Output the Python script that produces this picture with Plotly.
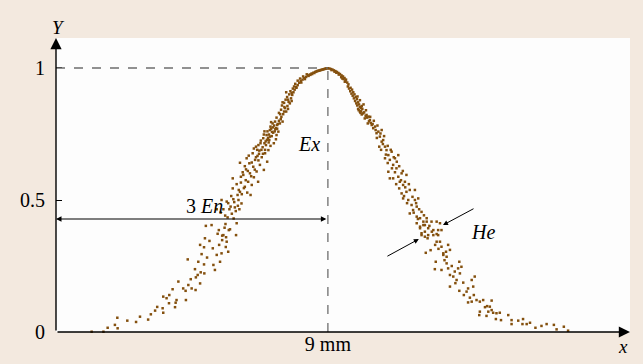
import plotly.graph_objects as go

# ---- cloud drops (x in mm, membership Y) ----
left_tail = [
    (1.18, 0.001), (1.57, 0.001), (1.71, 0.016), (1.95, 0.027), (2.04, 0.014), (2.03, 0.054),
    (2.36, 0.043), (2.65, 0.038), (2.78, 0.058), (3.05, 0.047), (3.14, 0.067), (3.28, 0.081),
    (3.35, 0.095), (3.55, 0.073), (3.53, 0.090), (3.55, 0.134), (3.66, 0.128), (3.75, 0.140),
    (3.74, 0.109), (3.86, 0.162), (3.94, 0.094), (3.96, 0.111), (4.05, 0.191), (3.99, 0.121),
    (4.21, 0.165), (4.30, 0.121), (4.29, 0.156), (4.36, 0.275), (4.38, 0.178), (4.46, 0.200),
    (4.49, 0.165), (4.62, 0.159), (4.63, 0.207), (4.60, 0.238), (4.71, 0.266), (4.77, 0.184),
    (4.69, 0.216), (4.79, 0.226), (4.82, 0.295), (4.90, 0.256), (4.91, 0.222), (4.77, 0.330),
    (4.90, 0.321), (4.93, 0.355), (4.96, 0.402), (5.15, 0.405), (5.19, 0.317), (5.26, 0.235),
    (5.21, 0.254), (5.32, 0.292), (5.40, 0.330), (5.43, 0.266), (5.48, 0.298), (5.54, 0.367),
    (5.61, 0.409), (5.65, 0.342), (5.70, 0.304), (5.72, 0.386), (5.58, 0.395), (5.50, 0.348),
    (5.62, 0.322), (5.35, 0.372), (5.08, 0.345), (5.00, 0.282),
]
left_mid = [
    (5.32, 0.465), (5.39, 0.386), (5.48, 0.500), (5.50, 0.365), (5.54, 0.465), (5.63, 0.359),
    (5.65, 0.494), (5.68, 0.434), (5.74, 0.465), (5.76, 0.389), (5.78, 0.475), (5.85, 0.582),
    (5.85, 0.544), (5.87, 0.503), (5.92, 0.472), (5.96, 0.367), (5.98, 0.412), (6.01, 0.519),
    (6.07, 0.465), (6.09, 0.531), (6.09, 0.641), (6.12, 0.566), (6.14, 0.487), (6.20, 0.595),
    (6.25, 0.550), (6.29, 0.616), (6.31, 0.658), (6.33, 0.528), (6.36, 0.569), (6.40, 0.639),
    (6.42, 0.601), (6.44, 0.519), (6.48, 0.557), (6.51, 0.677), (6.53, 0.626), (6.55, 0.586),
    (6.59, 0.652), (6.62, 0.702), (6.64, 0.608), (6.67, 0.667), (6.69, 0.569), (6.73, 0.687),
    (6.75, 0.633), (6.77, 0.715), (6.81, 0.662), (6.84, 0.700), (6.86, 0.734), (6.88, 0.614),
    (6.92, 0.677), (6.95, 0.708), (6.97, 0.746), (6.99, 0.645), (7.03, 0.689), (7.06, 0.727),
    (7.08, 0.765), (7.10, 0.778), (7.14, 0.742), (7.17, 0.790), (7.19, 0.755), (7.21, 0.715),
    (7.25, 0.797), (7.28, 0.772), (7.30, 0.746), (7.32, 0.784), (7.36, 0.759), (7.41, 0.790),
    (7.50, 0.797), (7.00, 0.760), (7.05, 0.748), (7.12, 0.770), (7.15, 0.758), (7.18, 0.775),
    (7.22, 0.782), (7.26, 0.768), (7.02, 0.735), (6.94, 0.722), (6.90, 0.715), (7.08, 0.740),
    (6.80, 0.690), (6.72, 0.675), (6.66, 0.690), (6.78, 0.725), (6.98, 0.728), (7.24, 0.760),
    (7.34, 0.788), (7.38, 0.800), (7.44, 0.806),
]
left_extra = [
    (5.45, 0.452), (5.60, 0.441), (5.82, 0.448), (5.95, 0.458), (5.70, 0.488), (5.90, 0.492),
    (6.04, 0.500), (5.80, 0.515), (6.15, 0.522), (6.05, 0.538), (6.22, 0.545), (5.98, 0.560),
    (6.28, 0.575), (6.12, 0.588), (6.46, 0.590), (6.35, 0.610), (6.58, 0.615), (6.25, 0.628),
    (6.48, 0.642), (6.70, 0.650), (6.62, 0.662), (6.38, 0.668), (6.85, 0.675), (6.55, 0.695),
    (6.92, 0.690), (7.10, 0.705), (6.70, 0.708), (6.88, 0.748), (7.04, 0.718), (7.28, 0.730),
    (7.32, 0.770), (7.46, 0.815), (7.30, 0.812), (7.55, 0.835), (7.42, 0.825), (7.68, 0.845),
    (7.50, 0.870), (7.80, 0.875), (7.62, 0.908), (7.88, 0.930), (6.02, 0.478), (5.88, 0.430),
    (6.18, 0.605), (6.90, 0.760), (7.12, 0.795),
]
left_top = [
    (7.38, 0.830), (7.45, 0.842), (7.52, 0.825), (7.58, 0.848), (7.62, 0.835), (7.48, 0.858),
    (7.66, 0.856), (7.55, 0.868), (7.70, 0.872), (7.60, 0.880), (7.74, 0.866), (7.65, 0.890),
    (7.78, 0.885), (7.82, 0.898), (7.72, 0.900), (7.86, 0.908), (7.76, 0.912), (7.90, 0.918),
    (7.95, 0.928), (7.84, 0.922), (8.00, 0.935), (7.92, 0.940), (8.05, 0.944), (8.10, 0.950),
    (8.00, 0.952), (8.16, 0.956), (8.08, 0.960), (8.22, 0.962), (8.28, 0.966), (8.18, 0.968),
    (8.34, 0.972), (8.40, 0.975), (8.30, 0.976), (8.46, 0.979), (8.52, 0.982), (8.58, 0.985),
    (8.64, 0.988), (8.70, 0.990), (8.76, 0.992), (8.82, 0.994), (8.88, 0.996), (8.94, 0.998),
    (9.00, 0.999), (8.48, 0.977), (8.55, 0.981), (8.61, 0.986), (8.67, 0.989), (8.73, 0.991),
    (8.79, 0.993), (8.85, 0.995), (8.91, 0.997), (8.97, 0.999), (8.36, 0.970), (8.42, 0.974),
    (8.24, 0.958), (8.12, 0.945), (7.96, 0.925), (7.80, 0.905), (7.68, 0.880), (7.56, 0.852),
]
right_top = [
    (9.05, 0.998), (9.10, 0.996), (9.15, 0.994), (9.20, 0.991), (9.25, 0.988), (9.30, 0.985),
    (9.35, 0.981), (9.40, 0.977), (9.45, 0.972), (9.50, 0.968), (9.55, 0.962), (9.60, 0.956),
    (9.44, 0.965), (9.52, 0.958), (9.58, 0.950), (9.64, 0.945), (9.68, 0.938), (9.66, 0.930),
    (9.75, 0.925), (9.80, 0.918), (9.74, 0.912), (9.84, 0.908), (9.88, 0.900), (9.82, 0.895),
    (9.92, 0.890), (9.96, 0.882), (9.90, 0.875), (10.00, 0.870), (10.03, 0.862), (9.97, 0.858),
    (10.06, 0.852), (10.10, 0.848), (10.00, 0.845), (10.12, 0.856), (9.86, 0.885), (9.70, 0.922),
    (9.78, 0.903), (9.94, 0.866), (9.36, 0.975), (9.28, 0.982), (9.12, 0.992), (9.22, 0.986),
    (9.48, 0.960), (9.56, 0.948),
]
right_mid = [
    (10.06, 0.834), (10.17, 0.828), (10.28, 0.822), (10.22, 0.809), (10.34, 0.816), (10.39, 0.803),
    (10.45, 0.784), (10.50, 0.772), (10.56, 0.778), (10.61, 0.753), (10.67, 0.759), (10.72, 0.740),
    (10.78, 0.765), (10.78, 0.721), (10.83, 0.727), (10.70, 0.702), (10.89, 0.702), (10.94, 0.689),
    (10.89, 0.658), (11.00, 0.670), (11.05, 0.652), (11.11, 0.683), (11.16, 0.633), (11.22, 0.658),
    (11.27, 0.620), (11.33, 0.670), (11.00, 0.607), (11.05, 0.582), (11.16, 0.582), (11.33, 0.588),
    (11.38, 0.569), (11.44, 0.601), (11.49, 0.557), (11.55, 0.569), (11.60, 0.595), (11.36, 0.544),
    (11.44, 0.525), (11.49, 0.506), (11.60, 0.531), (11.66, 0.500), (11.71, 0.538), (11.77, 0.481),
    (11.88, 0.538), (11.88, 0.500), (11.94, 0.475), (11.99, 0.506), (11.71, 0.449), (11.82, 0.462),
    (11.94, 0.437), (12.05, 0.431), (12.10, 0.455), (12.16, 0.418), (12.21, 0.405), (12.27, 0.431),
    (12.32, 0.393), (12.05, 0.399), (12.10, 0.374), (12.21, 0.361), (12.43, 0.418), (12.49, 0.386),
    (12.60, 0.418), (12.65, 0.367), (10.02, 0.840), (10.10, 0.836), (10.14, 0.845), (10.08, 0.830),
    (10.20, 0.832), (10.25, 0.818), (10.12, 0.824), (10.30, 0.812), (10.36, 0.798), (10.42, 0.792),
    (10.48, 0.788),
]
right_extra = [
    (9.98, 0.892), (10.06, 0.878), (10.18, 0.862), (10.26, 0.840), (10.40, 0.815), (10.52, 0.800),
    (10.32, 0.790), (10.58, 0.765), (10.64, 0.782), (10.74, 0.752), (10.62, 0.735), (10.86, 0.742),
    (10.82, 0.712), (10.98, 0.705), (10.76, 0.690), (10.92, 0.672), (11.08, 0.690), (11.18, 0.662),
    (10.98, 0.640), (11.28, 0.645), (11.12, 0.620), (11.36, 0.628), (11.22, 0.605), (11.48, 0.610),
    (11.26, 0.560), (11.42, 0.575), (11.56, 0.548), (11.68, 0.560), (11.52, 0.515), (11.80, 0.512),
    (11.62, 0.488), (11.92, 0.488), (11.84, 0.452), (12.02, 0.465), (12.18, 0.442), (11.98, 0.428),
    (12.36, 0.402), (12.44, 0.380), (12.30, 0.355), (12.55, 0.330), (12.66, 0.315), (12.40, 0.310),
    (12.86, 0.272), (13.10, 0.250), (13.22, 0.185), (13.50, 0.140), (13.70, 0.130),
]
right_low = [
    (11.94, 0.412), (12.05, 0.393), (12.16, 0.405), (12.21, 0.380), (12.27, 0.418), (12.10, 0.367),
    (12.32, 0.367), (12.24, 0.300), (12.49, 0.367), (12.60, 0.371), (12.65, 0.386), (12.71, 0.412),
    (12.76, 0.386), (12.60, 0.342), (12.71, 0.342), (12.76, 0.323), (12.82, 0.298), (12.91, 0.304),
    (12.98, 0.330), (13.04, 0.311), (12.82, 0.292), (12.93, 0.285), (12.57, 0.266), (12.54, 0.238),
    (12.76, 0.235), (12.93, 0.260), (12.98, 0.241), (13.04, 0.216), (13.15, 0.210), (13.20, 0.229),
    (13.31, 0.241), (13.42, 0.247), (13.35, 0.266), (13.26, 0.197), (13.37, 0.222), (13.04, 0.172),
    (13.35, 0.156), (13.48, 0.187), (13.59, 0.153), (13.64, 0.165), (13.76, 0.197), (13.81, 0.172),
    (13.86, 0.210), (13.83, 0.140), (13.64, 0.112), (13.76, 0.115), (13.92, 0.121), (14.03, 0.115),
    (14.14, 0.121), (14.03, 0.077), (14.20, 0.094), (14.27, 0.098), (14.36, 0.096), (14.42, 0.119),
    (14.31, 0.077), (14.42, 0.083), (14.47, 0.073), (14.58, 0.071), (14.69, 0.073), (14.01, 0.064),
    (14.25, 0.061), (14.56, 0.049), (14.73, 0.045), (14.97, 0.064), (15.08, 0.045), (15.08, 0.030),
    (15.30, 0.043), (15.46, 0.049), (15.44, 0.030), (15.58, 0.030), (15.69, 0.035), (15.87, 0.016),
    (16.07, 0.023), (16.24, 0.030), (16.48, 0.027), (16.57, 0.010), (16.81, 0.020), (16.95, 0.005),
]

# ---- axis / annotation values ----
X_RANGE = [0, 19]
Y_RANGE = [0, 1.1136]
EX = 9
EN3_Y = 0.428
y_tick_vals = [0, 0.5, 1]
y_tick_text = ["0", "0.5", "1"]
x_tick_vals = [EX]
x_tick_text = ["9 mm"]

drops = (left_tail + left_mid + left_extra + left_top +
         right_top + right_mid + right_extra + right_low)
xs = [p[0] for p in drops]
ys = [p[1] for p in drops]

SERIF = "Liberation Serif, Times New Roman, serif"
DOT = "#84500e"
BG = "#f3e9df"

fig = go.Figure()
fig.add_trace(go.Scatter(
    x=xs, y=ys, mode="markers", hoverinfo="skip", cliponaxis=False,
    marker=dict(symbol="square", size=2.5, color=DOT, line=dict(width=0)),
))

# dashed guides
fig.add_shape(type="line", x0=0, x1=EX, y0=1, y1=1, xref="x", yref="y",
              line=dict(color="#6e6e6e", width=1.3, dash="dash"))
fig.add_shape(type="line", x0=EX, x1=EX, y0=0, y1=1, xref="x", yref="y",
              line=dict(color="#6e6e6e", width=1.3, dash="dash"))

ann = []
# axes with arrows
ann.append(dict(x=0, y=Y_RANGE[1], ax=0, ay=0, xref="x", yref="y", axref="x", ayref="y",
                showarrow=True, arrowhead=2, arrowsize=1.6, arrowwidth=1.4, arrowcolor="black", text=""))
ann.append(dict(x=X_RANGE[1], y=0, ax=0, ay=0, xref="x", yref="y", axref="x", ayref="y",
                showarrow=True, arrowhead=2, arrowsize=1.6, arrowwidth=1.4, arrowcolor="black", text=""))
# 3 En dimension arrow
ann.append(dict(x=0, y=EN3_Y, ax=EX, ay=EN3_Y, xref="x", yref="y", axref="x", ayref="y",
                showarrow=True, arrowhead=2, startarrowhead=2, arrowside="end+start",
                arrowsize=1, startarrowsize=1, arrowwidth=1.1, arrowcolor="black", text=""))
# He arrows
ann.append(dict(x=12.01, y=0.352, ax=10.92, ay=0.284, xref="x", yref="y", axref="x", ayref="y",
                showarrow=True, arrowhead=2, arrowsize=1, arrowwidth=1, arrowcolor="black", text=""))
ann.append(dict(x=12.81, y=0.405, ax=13.87, ay=0.470, xref="x", yref="y", axref="x", ayref="y",
                showarrow=True, arrowhead=2, arrowsize=1, arrowwidth=1, arrowcolor="black", text=""))
# axis name labels (outside the plot area -> paper coordinates)
ann.append(dict(x=0.0035, y=1.037, xref="paper", yref="paper", text="<i>Y</i>", showarrow=False,
                xanchor="center", yanchor="middle",
                font=dict(family=SERIF, size=19, color="black")))
ann.append(dict(x=0.988, y=-0.051, xref="paper", yref="paper", text="<i>x</i>", showarrow=False,
                xanchor="center", yanchor="middle",
                font=dict(family=SERIF, size=19, color="black")))
# in-plot labels
ann.append(dict(x=8.37, y=0.712, xref="x", yref="y", text="<i>Ex</i>", showarrow=False,
                font=dict(family=SERIF, size=20, color="black")))
ann.append(dict(x=4.93, y=0.478, xref="x", yref="y", text="3 <i>En</i>", showarrow=False,
                font=dict(family=SERIF, size=20, color="black")))
ann.append(dict(x=14.13, y=0.379, xref="x", yref="y", text="<i>He</i>", showarrow=False,
                font=dict(family=SERIF, size=20, color="black")))

fig.update_layout(
    width=643, height=364,
    margin=dict(l=56, r=13, t=38, b=32, pad=0, autoexpand=False),
    paper_bgcolor=BG, plot_bgcolor="#fdfdfd",
    showlegend=False,
    font=dict(family=SERIF, size=20, color="black"),
    xaxis=dict(range=X_RANGE, showgrid=False, zeroline=False, showline=False,
               tickvals=x_tick_vals, ticktext=x_tick_text, ticks="",
               ticklabelstandoff=-2, automargin=False, fixedrange=True),
    yaxis=dict(range=Y_RANGE, showgrid=False, zeroline=False, showline=False,
               tickvals=y_tick_vals, ticktext=y_tick_text, ticks="inside", ticklen=6,
               tickwidth=1.2, tickcolor="black", ticklabelstandoff=10,
               automargin=False, fixedrange=True),
    annotations=ann,
)

fig.write_html(
    "out.html",
    config={"displayModeBar": False},
    post_script="document.body.style.margin='0';document.body.style.overflow='hidden';"
                "document.body.style.background='" + BG + "';",
)
